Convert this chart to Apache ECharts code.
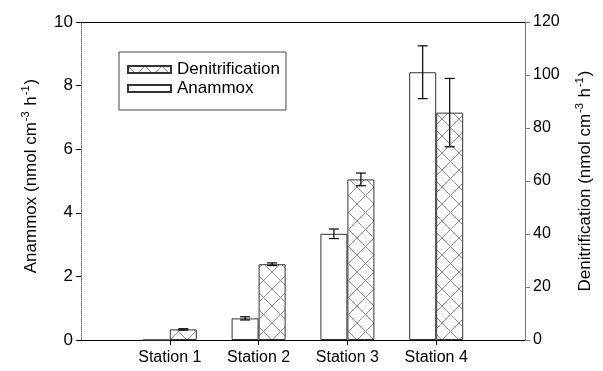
<!DOCTYPE html>
<html>
<head>
<meta charset="utf-8">
<script src="https://cdn.jsdelivr.net/npm/echarts@6/dist/echarts.min.js"></script>
<style>html,body{margin:0;padding:0;background:#fff;}#c{width:603px;height:371px;}</style>
</head>
<body>
<div id="c"></div>
<script>
const categories = ['', 'Station 1', 'Station 2', 'Station 3', 'Station 4', ''];
const anammox = [null, 0, 0.68, 3.34, 8.42, null];
const anammoxErr = [null, 0, 0.05, 0.15, 0.83, null];
const denit = [null, 4.0, 28.6, 60.6, 85.8, null];
const denitErr = [null, 0.25, 0.5, 2.4, 12.9, null];
const leftTicks = { min: 0, max: 10, interval: 2 };
const rightTicks = { min: 0, max: 120, interval: 20 };

const FONT = 'Liberation Sans, Arial, Helvetica, sans-serif';

function hatch() {
  const s = 17;
  const c = document.createElement('canvas');
  c.width = s; c.height = s;
  const g = c.getContext('2d');
  g.fillStyle = '#fff';
  g.fillRect(0, 0, s, s);
  g.strokeStyle = '#8a8a8a';
  g.lineWidth = 1;
  g.beginPath();
  g.moveTo(-1, -1); g.lineTo(s + 1, s + 1);
  g.moveTo(s + 1, -1); g.lineTo(-1, s + 1);
  g.stroke();
  return c;
}

const BAR_W = 27;

function errSeries(name, vals, errs, axisIdx, offset) {
  const data = [];
  vals.forEach((v, i) => {
    if (v != null && errs[i]) data.push([i, v, errs[i]]);
  });
  return {
    name: name + ' err',
    type: 'custom',
    yAxisIndex: axisIdx,
    z: 10,
    silent: true,
    data: data,
    renderItem: function (params, api) {
      const x = api.value(0), v = api.value(1), e = api.value(2);
      const hi = api.coord([x, v + e]);
      const lo = api.coord([x, v - e]);
      const cx = hi[0] + offset;
      const w = 5;
      const st = { stroke: '#000', lineWidth: 1.2 };
      return {
        type: 'group',
        children: [
          { type: 'line', shape: { x1: cx, y1: hi[1], x2: cx, y2: lo[1] }, style: st },
          { type: 'line', shape: { x1: cx - w, y1: hi[1], x2: cx + w, y2: hi[1] }, style: st },
          { type: 'line', shape: { x1: cx - w, y1: lo[1], x2: cx + w, y2: lo[1] }, style: st }
        ]
      };
    }
  };
}

const chart = echarts.init(document.getElementById('c'), null, { renderer: 'canvas' });
const titleRich = {
  n: { fontSize: 17, lineHeight: 21, fontFamily: FONT, color: '#000', verticalAlign: 'bottom' },
  sup: { fontSize: 11, lineHeight: 12, fontFamily: FONT, color: '#000', verticalAlign: 'bottom', padding: [0, 1, 9, 1] }
};

chart.setOption({
  animation: false,
  backgroundColor: '#fff',
  textStyle: { fontFamily: FONT },
  grid: { left: 81, right: 78, top: 22, bottom: 31 },
  legend: {
    data: ['Denitrification', 'Anammox'],
    orient: 'vertical',
    left: 119, top: 52,
    padding: [9, 6, 13, 8],
    itemGap: 2,
    itemWidth: 43,
    itemHeight: 7,
    icon: 'rect',
    borderColor: '#444',
    borderWidth: 1,
    borderRadius: 0,
    textStyle: { fontSize: 17, color: '#000', fontFamily: FONT, padding: [0, 0, 0, 1] }
  },
  xAxis: [{
    type: 'category',
    data: categories,
    boundaryGap: false,
    axisLine: { onZero: false, lineStyle: { color: '#000', width: 1 } },
    axisTick: { length: 5, lineStyle: { color: '#000' }, interval: function (i, v) { return v !== ''; } },
    axisLabel: { fontSize: 16, color: '#000', margin: 10, fontFamily: FONT, interval: 0 },
    splitLine: { show: false }
  }, {
    type: 'category',
    data: categories,
    position: 'top',
    boundaryGap: false,
    axisLine: { onZero: false, lineStyle: { color: '#000', width: 1 } },
    axisTick: { show: false },
    axisLabel: { show: false },
    splitLine: { show: false }
  }],
  yAxis: [{
    type: 'value',
    min: leftTicks.min, max: leftTicks.max, interval: leftTicks.interval,
    position: 'left',
    name: '{n|Anammox (nmol cm}{sup|-3}{n| h}{sup|-1}{n|)}',
    nameLocation: 'middle',
    nameGap: 41,
    nameTextStyle: { fontSize: 17, color: '#000', fontFamily: FONT, rich: titleRich, padding: [0, 0, 0, 10] },
    axisLine: { show: true, lineStyle: { color: '#666', type: 'dotted', width: 1 } },
    axisTick: { show: true, length: 5, lineStyle: { color: '#000' } },
    axisLabel: { fontSize: 17, color: '#000', margin: 8, fontFamily: FONT },
    splitLine: { show: false }
  }, {
    type: 'value',
    min: rightTicks.min, max: rightTicks.max, interval: rightTicks.interval,
    position: 'right',
    name: '{n|Denitrification (nmol cm}{sup|-3}{n| h}{sup|-1}{n|)}',
    nameLocation: 'middle',
    nameGap: 48,
    nameRotate: 90,
    nameTextStyle: { fontSize: 17, color: '#000', fontFamily: FONT, rich: titleRich, padding: [0, 0, 0, 0] },
    axisLine: { show: true, lineStyle: { color: '#777', width: 1 } },
    axisTick: { show: true, length: 5, lineStyle: { color: '#777' } },
    axisLabel: { fontSize: 16, color: '#000', margin: 8, fontFamily: FONT },
    splitLine: { show: false }
  }],
  series: [{
    name: 'Anammox',
    type: 'bar',
    yAxisIndex: 0,
    barWidth: BAR_W,
    barGap: '0%',
    data: anammox,
    itemStyle: { color: '#fff', borderColor: '#333', borderWidth: 1 }
  }, {
    name: 'Denitrification',
    type: 'bar',
    yAxisIndex: 1,
    barWidth: BAR_W,
    barGap: '0%',
    data: denit,
    itemStyle: { color: { image: hatch(), repeat: 'repeat' }, borderColor: '#333', borderWidth: 1 }
  },
  errSeries('Anammox', anammox, anammoxErr, 0, -BAR_W / 2),
  errSeries('Denitrification', denit, denitErr, 1, BAR_W / 2)
  ]
});
</script>
</body>
</html>
